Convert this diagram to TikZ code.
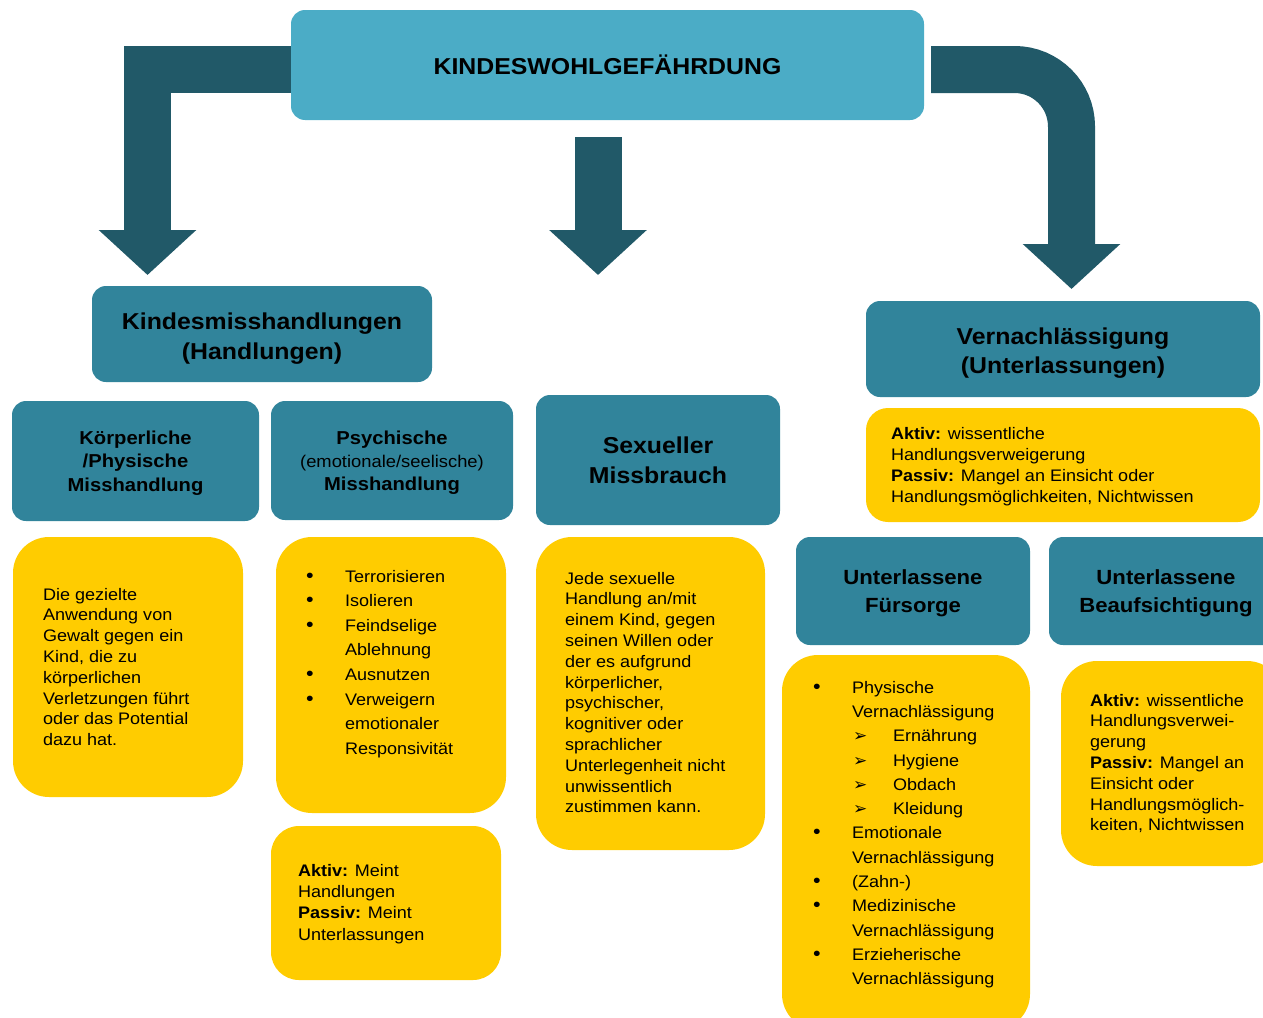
\documentclass[tikz,border=0pt]{standalone}
\usepackage{fontspec}
\setmainfont{Liberation Sans}[FakeStretch=1.08]
\newfontfamily\arrfont{DejaVu Sans}
\usepackage{tikz}
\usetikzlibrary{arrows.meta, positioning}
\definecolor{topblue}{HTML}{4BACC6}
\definecolor{boxteal}{HTML}{31849B}
\definecolor{arrowteal}{HTML}{215968}
\definecolor{boxyellow}{HTML}{FFCC00}
\newcommand{\listdot}{\makebox[39pt][l]{\fontsize{20}{20}\selectfont\textbullet}}
\newcommand{\listgap}{\hspace*{39pt}}
\newcommand{\subarrow}{\hspace*{40pt}\makebox[40pt][l]{\arrfont\fontsize{17}{17}\selectfont ➢}}
\tikzset{
  headbox/.style={fill=boxteal, rounded corners=14pt, inner sep=0pt, align=center},
  notebox/.style={fill=boxyellow, rounded corners=32pt, inner sep=0pt},
  notetext/.style={inner sep=0pt, align=left, anchor=north west, font=\fontsize{16.7}{20.8}\selectfont},
  bigarrow/.style={draw=arrowteal, line width=47pt, -{Triangle[width=95pt,length=45pt]}}
}

\begin{document}
\begin{tikzpicture}[x=1pt, y=-1pt]
\useasboundingbox (0,0) rectangle (1263,1017);

% top and first level
\node[fill=topblue, rounded corners=14pt, inner sep=0pt, minimum width=633pt, minimum height=110pt,
  font=\fontsize{23}{28}\selectfont\bfseries] (top) at (607.5,65) {KINDESWOHLGEFÄHRDUNG};
\node[headbox, minimum width=340pt, minimum height=96pt, font=\fontsize{23}{30}\selectfont\bfseries]
  (kmh) at (262,334) {\rule{0pt}{26pt}Kindesmisshandlungen\\(Handlungen)};
\node[headbox, minimum width=394pt, minimum height=96pt, font=\fontsize{23}{29}\selectfont\bfseries]
  (vern) at (1063,349) {\rule{0pt}{24pt}Vernachlässigung\\(Unterlassungen)};

% second level
\node[headbox, minimum width=247pt, minimum height=120pt, font=\fontsize{18.7}{23.5}\selectfont\bfseries]
  (koerp) at (135.5,461) {\rule{0pt}{17pt}Körperliche\\/Physische\\Misshandlung};
\node[headbox, minimum width=242pt, minimum height=119pt, font=\fontsize{18.7}{23}\selectfont\bfseries]
  (psych) at (392,460.5) {\rule{0pt}{17pt}Psychische\\{\mdseries\fontsize{17}{20}\selectfont(emotionale/seelische)}\\Misshandlung};
\node[headbox, minimum width=244pt, minimum height=130pt, font=\fontsize{23}{30}\selectfont\bfseries]
  (sex) at (658,460) {Sexueller\\Missbrauch};
\node[headbox, minimum width=234pt, minimum height=108pt, font=\fontsize{20.5}{28}\selectfont\bfseries]
  (fuer) at (913,591) {\rule{0pt}{19pt}Unterlassene\\Fürsorge};
\node[headbox, minimum width=234pt, minimum height=108pt, font=\fontsize{20.5}{28}\selectfont\bfseries]
  (beauf) at (1166,591) {\rule{0pt}{19pt}Unterlassene\\Beaufsichtigung};

% yellow notes
\node[notebox, minimum width=394pt, minimum height=114pt, rounded corners=22pt] (vernbox) at (1063,465) {};
\node[notetext, font=\fontsize{16.7}{21}\selectfont] (verntext) at ([xshift=25pt,yshift=-19pt]vernbox.north west)
  {\textbf{Aktiv:} wissentliche\\Handlungsverweigerung\\\textbf{Passiv:} Mangel an Einsicht oder\\Handlungsmöglichkeiten, Nichtwissen};

\node[notebox, minimum width=230pt, minimum height=260pt, rounded corners=36pt] (koerpbox) at (128,667) {};
\node[notetext] (koerptext) at ([xshift=30pt,yshift=-51pt]koerpbox.north west)
  {Die gezielte\\Anwendung von\\Gewalt gegen ein\\Kind, die zu\\körperlichen\\Verletzungen führt\\oder das Potential\\dazu hat.};

\node[notebox, minimum width=230pt, minimum height=276pt, rounded corners=36pt] (psychbox) at (391,675) {};
\node[notetext, font=\fontsize{16.7}{24.6}\selectfont] (psychtext) at ([xshift=30pt,yshift=-33pt]psychbox.north west)
  {\listdot Terrorisieren\\\listdot Isolieren\\\listdot Feindselige\\\listgap Ablehnung\\\listdot Ausnutzen\\\listdot Verweigern\\\listgap emotionaler\\\listgap Responsivität};

\node[notebox, minimum width=230pt, minimum height=154pt, rounded corners=28pt] (aktivbox) at (386,903) {};
\node[notetext, font=\fontsize{16.7}{21.3}\selectfont] (aktivtext) at ([xshift=27pt,yshift=-38pt]aktivbox.north west)
  {\textbf{Aktiv:} Meint\\Handlungen\\\textbf{Passiv:} Meint\\Unterlassungen};

\node[notebox, minimum width=229pt, minimum height=313pt, rounded corners=36pt] (sexbox) at (650.5,693.5) {};
\node[notetext] (sextext) at ([xshift=29pt,yshift=-35pt]sexbox.north west)
  {Jede sexuelle\\Handlung an/mit\\einem Kind, gegen\\seinen Willen oder\\der es aufgrund\\körperlicher,\\psychischer,\\kognitiver oder\\sprachlicher\\Unterlegenheit nicht\\unwissentlich\\zustimmen kann.};

\node[notebox, minimum width=248pt, minimum height=375pt, rounded corners=36pt] (fuerbox) at (906,842.5) {};
\node[notetext, font=\fontsize{16.7}{24.3}\selectfont] (fuertext) at ([xshift=31pt,yshift=-26pt]fuerbox.north west)
  {\listdot Physische\\\listgap Vernachlässigung\\\subarrow Ernährung\\\subarrow Hygiene\\\subarrow Obdach\\\subarrow Kleidung\\\listdot Emotionale\\\listgap Vernachlässigung\\\listdot (Zahn-)\\\listdot Medizinische\\\listgap Vernachlässigung\\\listdot Erzieherische\\\listgap Vernachlässigung};

\node[notebox, minimum width=222pt, minimum height=205pt, rounded corners=36pt] (beaufbox) at (1172,763.5) {};
\node[notetext] (beauftext) at ([xshift=29pt,yshift=-33pt]beaufbox.north west)
  {\textbf{Aktiv:} wissentliche\\Handlungsverwei-\\gerung\\\textbf{Passiv:} Mangel an\\Einsicht oder\\Handlungsmöglich-\\keiten, Nichtwissen};

% block arrows
\coordinate (ltip) at (147.5,275);
\coordinate (mstart) at (598,137);
\coordinate (mtip) at (598,275);
\coordinate (rtip) at (1071.5,289);
\draw[bigarrow] ([yshift=-4.5pt]top.west) -- (147.5,69.5) -- (ltip);
\draw[bigarrow] (mstart) -- (mtip);
\draw[bigarrow, rounded corners=57pt] ([xshift=7pt,yshift=-4.5pt]top.east) -| (rtip);
\end{tikzpicture}
\end{document}
